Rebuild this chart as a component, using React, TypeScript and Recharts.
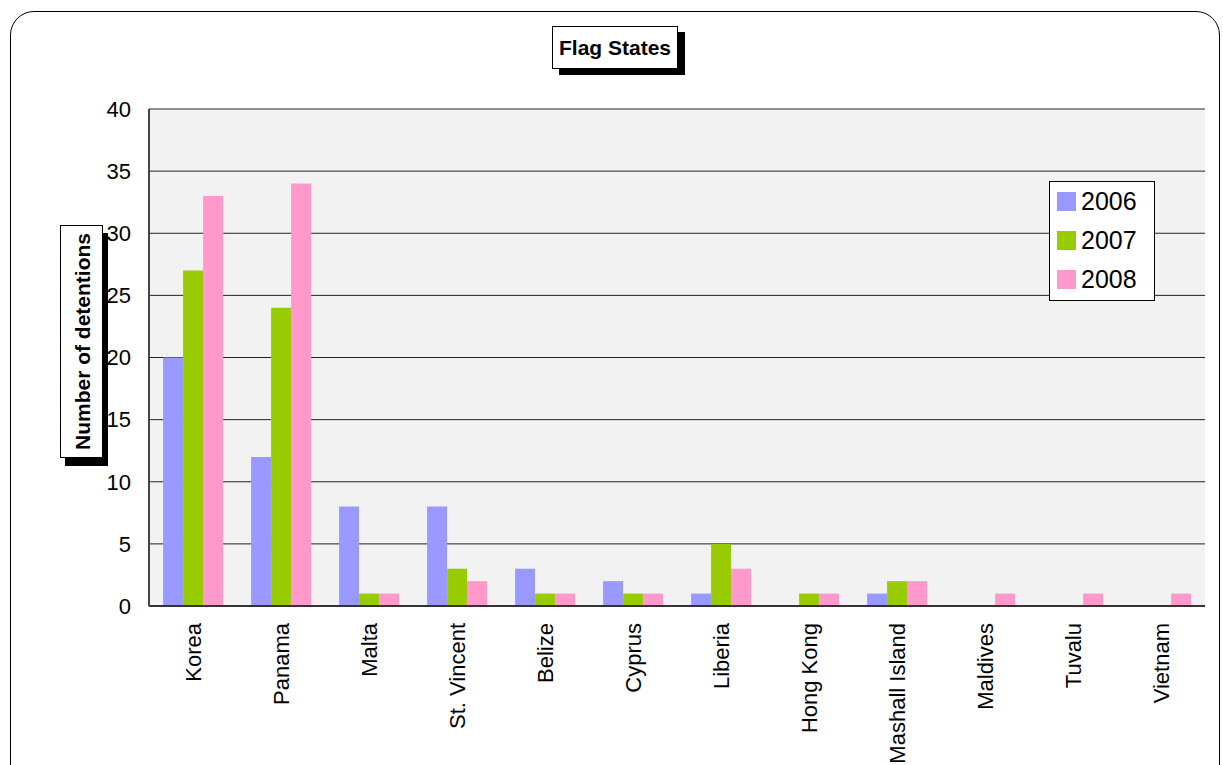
import { BarChart, Bar, XAxis, YAxis, CartesianGrid, Legend } from "recharts"

const countries = [
  "Korea", "Panama", "Malta", "St. Vincent", "Belize", "Cyprus",
  "Liberia", "Hong Kong", "Mashall Island", "Maldives", "Tuvalu", "Vietnam",
]
const y2006 = [20, 12, 8, 8, 3, 2, 1, 0, 1, 0, 0, 0]
const y2007 = [27, 24, 1, 3, 1, 1, 5, 1, 2, 0, 0, 0]
const y2008 = [33, 34, 1, 2, 1, 1, 3, 1, 2, 1, 1, 1]
const yTicks = [0, 5, 10, 15, 20, 25, 30, 35, 40]

const SERIES = [
  { key: "2006", color: "#9999ff" },
  { key: "2007", color: "#99cc00" },
  { key: "2008", color: "#ff99cc" },
]

const FONT = "'Liberation Sans', Arial, sans-serif"

const data = countries.map((name, i) => ({
  name,
  "2006": y2006[i],
  "2007": y2007[i],
  "2008": y2008[i],
}))

const CountryTick = ({ x, y, payload }: any) => (
  <text
    x={x}
    y={y}
    transform={`rotate(-90 ${x} ${y})`}
    textAnchor="end"
    dominantBaseline="central"
    fill="#000"
    style={{ fontSize: 22, fontFamily: FONT }}
  >
    {payload.value}
  </text>
)

const LegendBox = () => (
  <div
    style={{
      width: 106,
      height: 120,
      border: "1px solid #000",
      background: "#fff",
      boxSizing: "border-box",
      fontFamily: FONT,
    }}
  >
    {SERIES.map(s => (
      <div key={s.key} style={{ display: "flex", alignItems: "center", height: 39, paddingLeft: 7 }}>
        <span style={{ width: 19, height: 19, background: s.color, marginRight: 5, display: "inline-block" }} />
        <span style={{ fontSize: 25, color: "#000", lineHeight: "25px" }}>{s.key}</span>
      </div>
    ))}
  </div>
)

export default function App() {
  return (
    <div style={{ position: "absolute", left: 0, top: 0, width: 1223, height: 765, overflow: "hidden", background: "#fff" }}>
      <div
        style={{
          position: "absolute", left: 10, top: 11, width: 1210, height: 780,
          border: "1px solid #000", borderRadius: 24, boxSizing: "border-box",
        }}
      />
      <BarChart
        width={1223}
        height={765}
        data={data}
        margin={{ top: 109, right: 18, bottom: 0, left: 0 }}
        barCategoryGap="16%"
        barGap={0}
        style={{ fontFamily: FONT }}
      >
        <CartesianGrid vertical={false} stroke="#222" fill="#f2f2f2" strokeOpacity={1} />
        <XAxis
          dataKey="name"
          interval={0}
          height={159}
          tickLine={false}
          tickSize={0}
          tickMargin={17}
          axisLine={{ stroke: "#333", strokeWidth: 2 }}
          tick={<CountryTick />}
        />
        <YAxis
          width={149}
          domain={[0, 40]}
          ticks={yTicks}
          interval={0}
          tickLine={false}
          tickSize={0}
          tickMargin={18}
          axisLine={{ stroke: "#444", strokeWidth: 2 }}
          tick={{ fill: "#000", fontSize: 22, fontFamily: FONT }}
        />
        <YAxis
          yAxisId="frame"
          orientation="right"
          width={0}
          tick={false}
          tickLine={false}
          axisLine={{ stroke: "#999", strokeWidth: 2 }}
        />
        <Legend
          layout="vertical"
          align="center"
          verticalAlign="middle"
          content={<LegendBox />}
          wrapperStyle={{ left: 1049, top: 181, width: 106, height: 120 }}
        />
        {SERIES.map(s => (
          <Bar key={s.key} dataKey={s.key} fill={s.color} isAnimationActive={false} />
        ))}
      </BarChart>
      <div
        style={{
          position: "absolute", left: 552, top: 26, width: 126, height: 43,
          border: "1px solid #000", background: "#fff", boxSizing: "border-box",
          boxShadow: "7px 6px 0 #000", display: "flex", alignItems: "center",
          justifyContent: "center", fontFamily: FONT, fontWeight: "bold", fontSize: 21,
        }}
      >
        Flag States
      </div>
      <div
        style={{
          position: "absolute", left: 60, top: 225, width: 43, height: 233,
          border: "1px solid #000", background: "#fff", boxSizing: "border-box",
          boxShadow: "5px 8px 0 #000", display: "flex", alignItems: "center",
          justifyContent: "center", paddingLeft: 3,
        }}
      >
        <span
          style={{
            writingMode: "vertical-rl", transform: "rotate(180deg)",
            fontFamily: FONT, fontWeight: "bold", fontSize: 21, whiteSpace: "nowrap",
          }}
        >
          Number of detentions
        </span>
      </div>
    </div>
  )
}
